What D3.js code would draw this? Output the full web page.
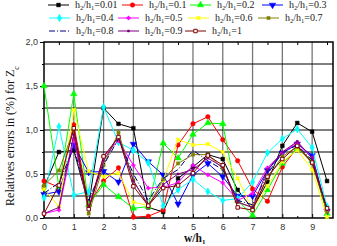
<!DOCTYPE html>
<html>
<head>
<meta charset="utf-8">
<script src="https://cdn.jsdelivr.net/npm/d3@7"></script>
<style>
  body { margin: 0; background: #fff; }
  svg { display: block; }
</style>
</head>
<body>
<div id="chart"></div>
<script>
// x positions (w/h1)
const xValues = [0, 0.5, 1, 1.5, 2, 2.5, 3, 3.5, 4, 4.5, 5, 5.5, 6, 6.5, 7, 7.5, 8, 8.5, 9, 9.5];

const seriesNames = ["0.01", "0.1", "0.2", "0.3", "0.4", "0.5", "0.6", "0.7", "0.8", "0.9", "1"];

const r001 = [0.35, 0.75, 0.77, 0.15, 1.25, 1.07, 1.02, 0.12, 0.07, 0.45, 0.58, 0.72, 0.67, 0.32, 0.10, 0.41, 0.82, 1.08, 0.98, 0.42];
const r01  = [0.42, 0.35, 1.06, 0.15, 0.42, 0.57, 0.01, 0.02, 0.09, 0.83, 1.07, 1.15, 0.89, 0.65, 0.33, 0.19, 0.58, 0.80, 0.65, 0.08];
const r02  = [1.50, 0.35, 1.41, 0.15, 0.38, 0.24, 0.11, 0.13, 0.85, 0.68, 0.95, 1.08, 1.07, 0.20, 0.03, 0.32, 0.62, 0.79, 0.65, 0.05];
const r03  = [0.27, 0.30, 0.83, 0.52, 0.53, 0.41, 0.84, 0.64, 0.49, 0.16, 0.49, 0.62, 0.47, 0.25, 0.25, 0.54, 0.74, 0.84, 0.71, 0.08];
const r04  = [0.23, 1.04, 0.26, 0.30, 1.26, 0.86, 0.77, 0.63, 0.14, 0.32, 0.44, 0.30, 0.20, 0.22, 0.41, 0.74, 0.90, 1.01, 0.80, 0.13];
const r05  = [0.05, 0.09, 0.90, 0.12, 0.70, 0.88, 0.60, 0.34, 0.35, 0.40, 0.60, 0.49, 0.40, 0.20, 0.28, 0.57, 0.74, 0.86, 0.68, 0.08];
const r06  = [0.33, 0.13, 1.23, 0.53, 0.47, 0.51, 0.18, 0.14, 0.43, 0.89, 0.83, 0.84, 0.75, 0.45, 0.10, 0.36, 0.64, 0.77, 0.55, 0.01];
const r07  = [0.37, 0.54, 1.00, 0.05, 0.60, 0.97, 0.43, 0.13, 0.44, 0.62, 0.72, 0.72, 0.56, 0.18, 0.12, 0.45, 0.70, 0.81, 0.62, 0.07];
const r08  = [0.28, 0.40, 0.80, 0.20, 0.60, 0.90, 0.50, 0.20, 0.45, 0.55, 0.77, 0.65, 0.55, 0.20, 0.15, 0.50, 0.74, 0.83, 0.66, 0.08];
const r09  = [0.05, 0.12, 0.95, 0.10, 0.65, 0.93, 0.42, 0.15, 0.38, 0.50, 0.55, 0.68, 0.58, 0.18, 0.12, 0.55, 0.75, 0.87, 0.68, 0.10];
const r1   = [0.05, 0.37, 1.02, 0.10, 0.70, 0.92, 0.36, 0.14, 0.34, 0.37, 0.51, 0.71, 0.60, 0.12, 0.09, 0.47, 0.67, 0.82, 0.63, 0.11];

const seriesValues = [r001, r01, r02, r03, r04, r05, r06, r07, r08, r09, r1];

const yTicks = [0, 0.5, 1, 1.5, 2];
const xTicks = [0, 1, 2, 3, 4, 5, 6, 7, 8, 9];

const colors = ["#000000", "#ff0000", "#00ff00", "#0000ff", "#00ffff", "#ff00ff",
                "#ffff00", "#808000", "#000080", "#800080", "#800000"];

const W = 337, H = 246;
const pLeft = 44, pRight = 333, pTop = 42, pBottom = 218;

const svg = d3.select("#chart").append("svg")
    .attr("width", W)
    .attr("height", H);

const x = d3.scaleLinear().domain([0, 9.7]).range([pLeft, pRight]);
const y = d3.scaleLinear().domain([0, 2]).range([pBottom, pTop]);

// grid
svg.append("g")
  .selectAll("line")
  .data(xTicks.slice(1))
  .enter().append("line")
    .attr("x1", d => x(d)).attr("x2", d => x(d))
    .attr("y1", pTop).attr("y2", pBottom)
    .attr("stroke", "#777").attr("stroke-width", 1.3);

svg.append("g")
  .selectAll("line")
  .data(d3.range(0.25, 2, 0.25))
  .enter().append("line")
    .attr("x1", pLeft).attr("x2", pRight)
    .attr("y1", d => y(d)).attr("y2", d => y(d))
    .attr("stroke", "#000").attr("stroke-width", 1);

// axes
const fmt = d3.format(".1f");
const comma = d => fmt(d).replace(".", ",");

svg.append("g")
    .attr("transform", `translate(0,${pBottom})`)
    .call(d3.axisBottom(x).tickValues(xTicks).tickSize(-4).tickPadding(6).tickFormat(d3.format("d")));

svg.append("g")
    .attr("transform", `translate(0,${pBottom})`)
    .call(d3.axisBottom(x).tickValues(d3.range(0.5, 9.6, 1)).tickSize(-2).tickFormat(""));

svg.append("g")
    .attr("transform", `translate(${pLeft},0)`)
    .call(d3.axisLeft(y).tickValues(yTicks).tickSize(4).tickPadding(2).tickFormat(comma));

svg.append("g")
    .attr("transform", `translate(${pLeft},0)`)
    .call(d3.axisLeft(y).tickValues(d3.range(0.25, 2, 0.5)).tickSize(2).tickFormat(""));

// top axis minor ticks
svg.append("g")
    .attr("transform", `translate(0,${pTop})`)
    .call(d3.axisTop(x).tickValues(d3.range(0.5, 9.6, 1)).tickSize(-3).tickFormat(""));

svg.selectAll(".domain").remove();
svg.selectAll(".tick line").attr("stroke", "#000").attr("stroke-width", 1);
svg.selectAll(".tick text")
    .style("font-family", "Liberation Sans, Arial, sans-serif")
    .style("font-size", "9px")
    .attr("fill", "#333");

// frame
svg.append("rect")
    .attr("x", pLeft).attr("y", pTop)
    .attr("width", pRight - pLeft).attr("height", pBottom - pTop)
    .attr("fill", "none").attr("stroke", "#000").attr("stroke-width", 1.5);

// markers
const markerDefs = [
  { type: d3.symbolSquare, size: 14, rot: 0, fill: true },
  { type: d3.symbolCircle, size: 16, rot: 0, fill: true },
  { type: d3.symbolTriangle, size: 18, rot: 0, fill: true },
  { type: d3.symbolTriangle, size: 18, rot: 180, fill: true },
  { type: d3.symbolDiamond, size: 16, rot: 0, fill: true },
  { type: d3.symbolCross, size: 8, rot: 0, fill: true },
  { type: d3.symbolCross, size: 10, rot: 45, fill: true },
  { type: d3.symbolSquare, size: 10, rot: 0, fill: true },
  { type: null },
  { type: d3.symbolSquare, size: 4, rot: 0, fill: true },
  { type: d3.symbolSquare, size: 12, rot: 0, fill: false }
];

function drawMarker(g, i, cx, cy) {
  const m = markerDefs[i];
  if (!m.type) return;
  g.append("path")
    .attr("d", d3.symbol().type(m.type).size(m.size)())
    .attr("transform", `translate(${cx},${cy}) rotate(${m.rot})`)
    .attr("fill", m.fill ? colors[i] : "#fff")
    .attr("stroke", colors[i])
    .attr("stroke-width", m.fill ? 0.5 : 1);
}

const line = d3.line()
    .x((d, i) => x(xValues[i]))
    .y(d => y(d));

const plot = svg.append("g");
seriesValues.forEach((vals, i) => {
  const g = plot.append("g");
  g.append("path")
    .datum(vals)
    .attr("d", line)
    .attr("fill", "none")
    .attr("stroke", colors[i])
    .attr("stroke-width", 1)
    .attr("stroke-dasharray", i === 8 ? "6,2,1,2" : null);
  vals.forEach((v, j) => drawMarker(g, i, x(xValues[j]), y(v)));
});

// legend
const legendPos = [
  [48, 5], [122, 5], [190, 5], [262, 5],
  [49, 18], [118, 18], [188, 18], [258, 18],
  [49, 31], [118, 31], [185, 31]
];

const legend = svg.append("g")
    .style("font-family", "Liberation Serif, Times New Roman, serif")
    .style("font-size", "10px");

seriesNames.forEach((name, i) => {
  const [lx, ly] = legendPos[i];
  const g = legend.append("g");
  g.append("line")
    .attr("x1", lx).attr("x2", lx + 21)
    .attr("y1", ly).attr("y2", ly)
    .attr("stroke", colors[i]).attr("stroke-width", 1)
    .attr("stroke-dasharray", i === 8 ? "6,2,1,2" : null);
  drawMarker(g, i, lx + 10.5, ly);
  const t = g.append("text")
    .attr("x", lx + 27).attr("y", ly + 3)
    .attr("fill", "#222");
  t.append("tspan").text("h");
  t.append("tspan").attr("baseline-shift", "-2px").style("font-size", "6.5px").text("2");
  t.append("tspan").text("/h");
  t.append("tspan").attr("baseline-shift", "-2px").style("font-size", "6.5px").text("1");
  t.append("tspan").text("=" + name);
});

// axis titles
const yt = svg.append("text")
    .attr("transform", `translate(14,${(pTop + pBottom) / 2 + 6}) rotate(-90)`)
    .attr("text-anchor", "middle")
    .style("font-family", "Liberation Serif, Times New Roman, serif")
    .style("font-size", "12px")
    .attr("fill", "#111");
yt.append("tspan").text("Relatives errors in (%) for Z");
yt.append("tspan").attr("baseline-shift", "sub").style("font-size", "8px").text("c");

const xt = svg.append("text")
    .attr("x", 184).attr("y", 242)
    .style("font-family", "Liberation Serif, Times New Roman, serif")
    .style("font-size", "11.5px")
    .style("font-weight", "bold")
    .attr("fill", "#111");
xt.append("tspan").text("w/h");
xt.append("tspan").attr("baseline-shift", "-2px").style("font-size", "7px").text("1");
</script>
</body>
</html>
